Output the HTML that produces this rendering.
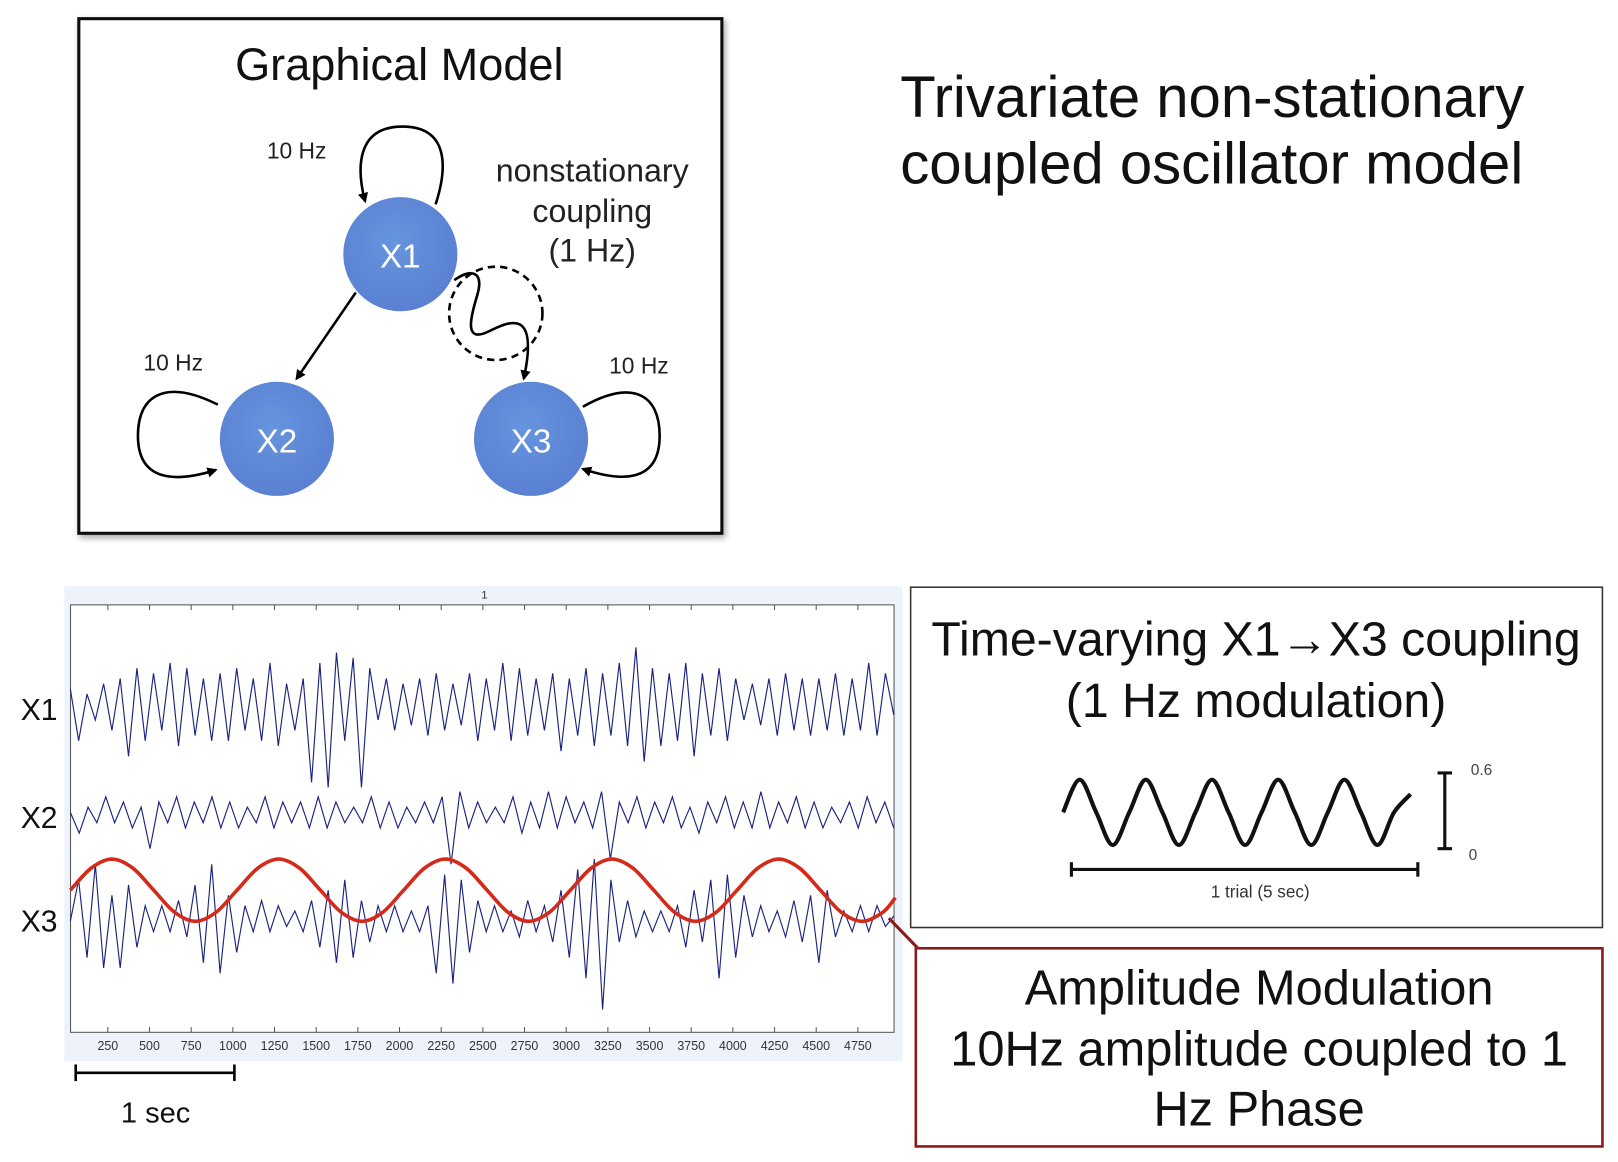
<!DOCTYPE html>
<html><head><meta charset="utf-8"><style>
html,body{margin:0;padding:0;background:#fff;}
svg{display:block;}
text{font-family:"Liberation Sans",sans-serif;}
</style></head><body>
<svg id="fig" width="1618" height="1162" viewBox="0 0 1560 1120" preserveAspectRatio="none" xmlns="http://www.w3.org/2000/svg">
<defs>
<marker id="ah" markerWidth="10" markerHeight="10" refX="8" refY="5" orient="auto" markerUnits="userSpaceOnUse"><path d="M0,0 L10,5 L0,10 Z" fill="#000"/></marker>
<radialGradient id="ng" cx="45%" cy="40%" r="60%"><stop offset="0" stop-color="#6694de"/><stop offset="1" stop-color="#5a80d2"/></radialGradient>
<filter id="sh" x="-10%" y="-10%" width="120%" height="120%"><feDropShadow dx="2" dy="3" stdDeviation="3" flood-opacity="0.35"/></filter>
</defs>

<g>
<rect x="76" y="18" width="620" height="496" fill="#fff" stroke="#111" stroke-width="3" filter="url(#sh)"/>
<text x="385" y="77" font-size="43.5" text-anchor="middle" fill="#111">Graphical Model</text>
<text x="286" y="153" font-size="22" text-anchor="middle" fill="#222">10 Hz</text>
<text x="167" y="357" font-size="22" text-anchor="middle" fill="#222">10 Hz</text>
<text x="616" y="360" font-size="22" text-anchor="middle" fill="#222">10 Hz</text>
<g font-size="31" text-anchor="middle" fill="#222">
<text x="571" y="175">nonstationary</text><text x="571" y="214">coupling</text><text x="571" y="252">(1 Hz)</text></g>
<g fill="none" stroke="#000" stroke-width="2.5">
<path d="M420,197 C432,160 432,122 388,122 C345,122 343,160 352,194" marker-end="url(#ah)"/>
<path d="M210,390 C160,365 133,380 133,420 C133,465 170,465 208,453" marker-end="url(#ah)"/>
<path d="M562,392 C610,365 636,380 636,420 C636,465 600,465 562,452" marker-end="url(#ah)"/>
<path d="M343,282 L286,365" marker-end="url(#ah)"/>
<circle cx="478" cy="302" r="45" stroke-dasharray="7,5"/>
<path d="M438,270 C455,258 467,262 460,285 C453,308 448,330 470,320 C490,310 520,295 505,365" marker-end="url(#ah)"/>
</g>
<g><circle cx="386" cy="245" r="55" fill="url(#ng)"/><text x="386" y="258" font-size="32" fill="#fff" text-anchor="middle">X1</text></g>
<g><circle cx="267" cy="423" r="55" fill="url(#ng)"/><text x="267" y="436" font-size="32" fill="#fff" text-anchor="middle">X2</text></g>
<g><circle cx="512" cy="423" r="55" fill="url(#ng)"/><text x="512" y="436" font-size="32" fill="#fff" text-anchor="middle">X3</text></g>
</g>

<g font-size="56" fill="#111">
<text x="868" y="113">Trivariate non-stationary</text>
<text x="868" y="177">coupled oscillator model</text></g>

<g>
<rect x="62" y="565" width="808" height="458" fill="#eef3fb"/>
<rect x="68" y="583" width="794" height="412" fill="#fff" stroke="#555" stroke-width="1"/>
<text x="467" y="577" font-size="11" text-anchor="middle" fill="#333">1</text>
<g id="ticks"></g>
<g id="traces"></g>
<g font-size="29" fill="#111">
<text x="20" y="694">X1</text>
<text x="20" y="798">X2</text>
<text x="20" y="898">X3</text></g>
</g>
<g stroke="#000" stroke-width="2.5">
<line x1="73" y1="1034" x2="226" y2="1034"/><line x1="73" y1="1026" x2="73" y2="1042"/><line x1="226" y1="1026" x2="226" y2="1042"/></g>
<text x="150" y="1082" font-size="28" text-anchor="middle" fill="#111">1 sec</text>

<line x1="857" y1="885" x2="886" y2="915" stroke="#8b1a1a" stroke-width="3"/>

<g>
<rect x="878" y="566" width="667" height="328" fill="#fff" stroke="#333" stroke-width="1.5"/>
<text x="1211" y="632" font-size="46.5" text-anchor="middle" fill="#111">Time-varying X1→X3 coupling</text>
<text x="1211" y="691" font-size="46.5" text-anchor="middle" fill="#111">(1 Hz modulation)</text>
<path id="smallSine" fill="none" stroke="#111" stroke-width="4"/>
<g stroke="#111" stroke-width="3"><line x1="1393" y1="745" x2="1393" y2="818"/><line x1="1386" y1="745" x2="1400" y2="745"/><line x1="1386" y1="818" x2="1400" y2="818"/></g>
<text x="1418" y="747" font-size="15" fill="#444">0.6</text>
<text x="1416" y="829" font-size="15" fill="#444">0</text>
<g stroke="#111" stroke-width="3"><line x1="1033" y1="838" x2="1367" y2="838"/><line x1="1033" y1="831" x2="1033" y2="845"/><line x1="1367" y1="831" x2="1367" y2="845"/></g>
<text x="1215" y="865" font-size="16.5" text-anchor="middle" fill="#333">1 trial (5 sec)</text>
</g>

<g>
<rect x="883" y="914" width="662" height="191" fill="#fff" stroke="#8b1a1a" stroke-width="2.5"/>
<g font-size="47" text-anchor="middle" fill="#111">
<text x="1214" y="968">Amplitude Modulation</text>
<text x="1214" y="1027">10Hz amplitude coupled to 1</text>
<text x="1214" y="1085">Hz Phase</text></g>
</g>
</svg>
<script>
const tickLabels=[250,500,750,1000,1250,1500,1750,2000,2250,2500,2750,3000,3250,3500,3750,4000,4250,4500,4750];
const x1Values=[20,-30,15,-10,25,-20,30,-45,40,-30,35,-20,45,-35,40,-25,30,-30,35,-30,40,-20,30,-30,45,-35,25,-20,30,-70,45,-75,55,-30,50,-75,40,-10,30,-20,25,-15,30,-25,35,-20,25,-15,35,-30,30,-20,45,-30,40,-25,30,-20,35,-40,30,-25,40,-35,35,-25,45,-35,60,-50,40,-35,35,-30,45,-45,35,-25,40,-30,30,-10,25,-15,30,-25,35,-20,30,-25,30,-20,35,-25,30,-20,45,-25,35,-5];
const x2Values=[5,-15,10,-5,20,-5,15,-10,10,-30,15,-5,20,-10,15,-5,20,-10,15,-10,10,-5,20,-10,15,-5,15,-10,20,-10,15,-5,10,-5,20,-10,15,-10,10,-5,15,-5,20,-45,25,-10,15,-5,10,-5,20,-15,15,-10,25,-10,20,-5,15,-10,25,-40,15,-5,20,-10,15,-5,20,-10,10,-15,15,-5,20,-10,15,-10,25,-10,15,-5,20,-10,15,-10,10,-5,15,-10,20,-5,15,-10];
const x3Values=[0,40,-35,55,-45,25,-45,35,-25,15,-10,15,-10,20,-15,35,-40,55,-50,25,-30,15,-10,20,-10,15,-5,10,-10,20,-25,30,-40,40,-35,20,-20,15,-10,15,-10,10,-10,15,-50,45,-60,40,-30,20,-10,15,-10,10,-15,20,-10,15,-20,30,-35,50,-55,60,-85,40,-20,20,-15,10,-10,10,-10,15,-25,30,-20,40,-55,45,-35,25,-15,15,-10,10,-15,20,-20,25,-40,30,-15,10,-10,15,-10,15,-5,5];
const modTimes=[0,125,250,375,500,625,750,875,1000,1125,1250,1375,1500,1625,1750,1875,2000,2125,2250,2375,2500,2625,2750,2875,3000,3125,3250,3375,3500,3625,3750,3875,4000,4125,4250,4375,4500,4625,4750,4875,4950];
const modValues=[0.5,0.854,1,0.854,0.5,0.146,0,0.146,0.5,0.854,1,0.854,0.5,0.146,0,0.146,0.5,0.854,1,0.854,0.5,0.146,0,0.146,0.5,0.854,1,0.854,0.5,0.146,0,0.146,0.5,0.854,1,0.854,0.5,0.146,0,0.146,0.38];
const smallSineValues=[0.5,0.95,0.5,0.05,0.5,0.95,0.5,0.05,0.5,0.95,0.5,0.05,0.5,0.95,0.5,0.05,0.5,0.95,0.5,0.05,0.5,0.75];

const NS='http://www.w3.org/2000/svg';
const xScale=t=>63.8+t*0.1607;
function smooth(pts){let d='M'+pts[0][0]+','+pts[0][1];
 for(let i=0;i<pts.length-1;i++){const p0=pts[i-1]||pts[i],p1=pts[i],p2=pts[i+1],p3=pts[i+2]||p2;
  d+=' C'+(p1[0]+(p2[0]-p0[0])/6)+','+(p1[1]+(p2[1]-p0[1])/6)+' '+(p2[0]-(p3[0]-p1[0])/6)+','+(p2[1]-(p3[1]-p1[1])/6)+' '+p2[0]+','+p2[1];}
 return d;}
const ticks=document.getElementById('ticks');
tickLabels.forEach(v=>{const x=xScale(v);
 const l=document.createElementNS(NS,'line');l.setAttribute('x1',x);l.setAttribute('x2',x);l.setAttribute('y1',990);l.setAttribute('y2',995);l.setAttribute('stroke','#555');
 
 
 ticks.appendChild(l);
 const l2=l.cloneNode();l2.setAttribute('y1',583);l2.setAttribute('y2',588);ticks.appendChild(l2);
 const t=document.createElementNS(NS,'text');t.setAttribute('x',x);t.setAttribute('y',1012);t.setAttribute('font-size','12');t.setAttribute('text-anchor','middle');t.setAttribute('fill','#333');t.textContent=v;
 
 
 ticks.appendChild(t);});
const traces=document.getElementById('traces');
function trace(vals,base,name){const pts=vals.map((v,i)=>[xScale(25+i*4940/(vals.length-1)).toFixed(1),(base-v).toFixed(1)]);
 const p=document.createElementNS(NS,'polyline');p.setAttribute('points',pts.map(q=>q.join(',')).join(' '));p.setAttribute('fill','none');p.setAttribute('stroke','#1a237e');p.setAttribute('stroke-width','1.1');
 
 
 traces.appendChild(p);}
trace(x1Values,684,'x1-trace');
trace(x2Values,788,'x2-trace');
trace(x3Values,888,'x3-trace');
const mp=document.createElementNS(NS,'path');
mp.setAttribute('d',smooth(modTimes.map((t,i)=>[xScale(t+25),888-modValues[i]*60])));
mp.setAttribute('fill','none');mp.setAttribute('stroke','#d42a1a');mp.setAttribute('stroke-width','3.5');


traces.appendChild(mp);
const sx0=1025,sx1=1360;
document.getElementById('smallSine').setAttribute('d',smooth(smallSineValues.map((v,i)=>[sx0+i*(sx1-sx0)/(smallSineValues.length-1),818-v*70])));
</script>
</body></html>
